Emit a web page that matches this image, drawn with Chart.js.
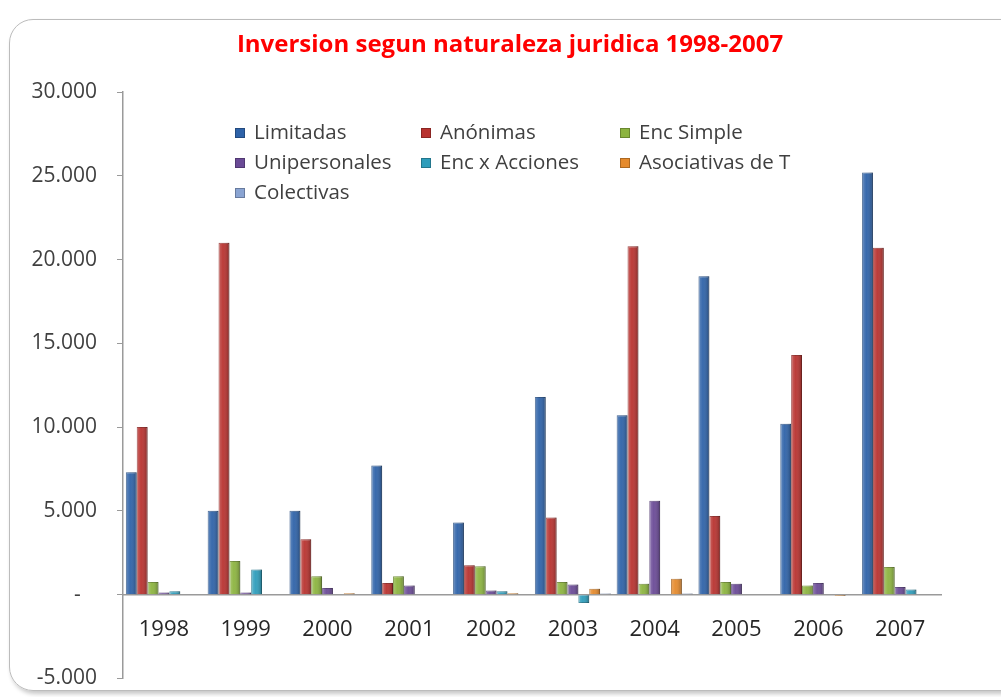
<!DOCTYPE html>
<html>
<head>
<meta charset="utf-8">
<script src="https://cdn.jsdelivr.net/npm/chart.js"></script>
<style>
  html,body{margin:0;padding:0;background:#fff;overflow:hidden;height:697px}
  #frame{position:absolute;left:9px;top:19px;width:1030px;height:670px;border:1.5px solid #bcbcbc;border-radius:24px;box-shadow:2px 3px 4px rgba(0,0,0,0.22)}
  #c{position:absolute;left:0;top:0}
</style>
</head>
<body>
<div id="frame"></div>
<canvas id="c" width="1001" height="711"></canvas>
<script>
(function(){
  // data
  const years = ['1998','1999','2000','2001','2002','2003','2004','2005','2006','2007'];
  const limitadas     = [7300, 5000, 5000, 7700, 4300, 11800, 10700, 19000, 10200, 25200];
  const anonimas      = [10000, 21000, 3300, 700, 1750, 4600, 20800, 4700, 14300, 20700];
  const encSimple     = [750, 2000, 1100, 1100, 1700, 750, 650, 750, 550, 1650];
  const unipersonales = [120, 120, 400, 550, 250, 600, 5600, 650, 700, 450];
  const encAcciones   = [200, 1500, 0, 0, 200, -500, 0, 0, 0, 300];
  const asociativas   = [0, 0, 80, 30, 80, 350, 950, 0, -80, 0];
  const colectivas    = [0, 0, 0, 0, 0, 60, 60, 0, 0, 0];
  const yTicks = {min: -5000, max: 30000, step: 5000};

  const series = [
    ['Limitadas', limitadas, '#2E62A8'],
    ['Anónimas', anonimas, '#B8322F'],
    ['Enc Simple', encSimple, '#8CB43F'],
    ['Unipersonales', unipersonales, '#6A4A96'],
    ['Enc x Acciones', encAcciones, '#2E9DBB'],
    ['Asociativas de T', asociativas, '#E58A2C'],
    ['Colectivas', colectivas, '#8AA4D2']
  ];

  function darker(hex, f){
    const n = parseInt(hex.slice(1),16);
    const r = Math.round(((n>>16)&255)*f), g = Math.round(((n>>8)&255)*f), b = Math.round((n&255)*f);
    return 'rgb('+r+','+g+','+b+')';
  }

  const FONT = "'Open Sans', 'Liberation Sans', sans-serif";

  // bevel shading, title and in-plot legend
  const decor = {
    id: 'decor',
    afterDatasetsDraw(chart){
      const ctx = chart.ctx;
      ctx.save();
      chart.data.datasets.forEach((ds,i)=>{
        chart.getDatasetMeta(i).data.forEach(bar=>{
          const p = bar.getProps(['x','y','base','width'], true);
          const l = p.x - p.width/2;
          const h = Math.abs(p.base - p.y);
          if (h < 0.5) return;
          const g = ctx.createLinearGradient(l,0,l+p.width,0);
          g.addColorStop(0,'rgba(255,255,255,0.25)');
          g.addColorStop(0.4,'rgba(255,255,255,0.05)');
          g.addColorStop(1,'rgba(0,0,0,0.28)');
          ctx.fillStyle = g;
          ctx.fillRect(l, Math.min(p.y,p.base), p.width, h);
        });
      });
      ctx.restore();
    },
    afterDraw(chart){
      const ctx = chart.ctx, a = chart.chartArea;
      ctx.save();
      ctx.fillStyle = '#FF0000';
      ctx.font = 'bold 24px ' + FONT;
      ctx.textAlign = 'center';
      ctx.textBaseline = 'middle';
      ctx.fillText('Inversion segun naturaleza juridica 1998-2007', 510, 45);

      const cols = [112, 298, 497], rows = [41, 71, 101];
      ctx.font = '20.5px ' + FONT;
      ctx.textAlign = 'left';
      chart.data.datasets.forEach((ds,i)=>{
        const x = a.left + cols[i%3], y = a.top + rows[Math.floor(i/3)];
        ctx.fillStyle = ds.backgroundColor;
        ctx.fillRect(x, y-5, 10, 10);
        ctx.strokeStyle = ds.borderColor;
        ctx.lineWidth = 1;
        ctx.strokeRect(x+0.5, y-4.5, 9, 9);
        ctx.fillStyle = '#404040';
        ctx.fillText(ds.label, x+19, y);
      });
      ctx.restore();
    }
  };

  new Chart(document.getElementById('c'), {
    type: 'bar',
    data: {
      labels: years,
      datasets: series.map(s=>({
        label: s[0], data: s[1],
        backgroundColor: s[2], borderColor: darker(s[2], 0.75), borderWidth: 1,
        categoryPercentage: 0.93, barPercentage: 1
      }))
    },
    options: {
      responsive: false,
      animation: false,
      layout: {padding: {top: 92, right: 60, bottom: 7, left: 0}},
      plugins: {legend: {display: false}, title: {display: false}, tooltip: {enabled: false}},
      scales: {
        x: {
          position: {y: 0},
          grid: {display: true, drawOnChartArea: false, drawTicks: false, color: 'transparent'},
          border: {display: true, color: '#9a9a9a', width: 1.5},
          ticks: {color: '#262626', font: {family: FONT, size: 22}, padding: 22}
        },
        y: {
          min: yTicks.min, max: yTicks.max,
          afterFit(s){ s.width = 123; },
          grid: {display: true, drawOnChartArea: false, drawTicks: true, tickLength: 6, color: '#9a9a9a'},
          border: {display: true, color: '#9a9a9a', width: 1.5},
          ticks: {
            stepSize: yTicks.step, color: '#404040', font: {family: FONT, size: 21}, padding: 20,
            callback: v => v === 0 ? '-   ' : v.toLocaleString('de-DE')
          }
        }
      }
    },
    plugins: [decor]
  });
})();
</script>
</body>
</html>
